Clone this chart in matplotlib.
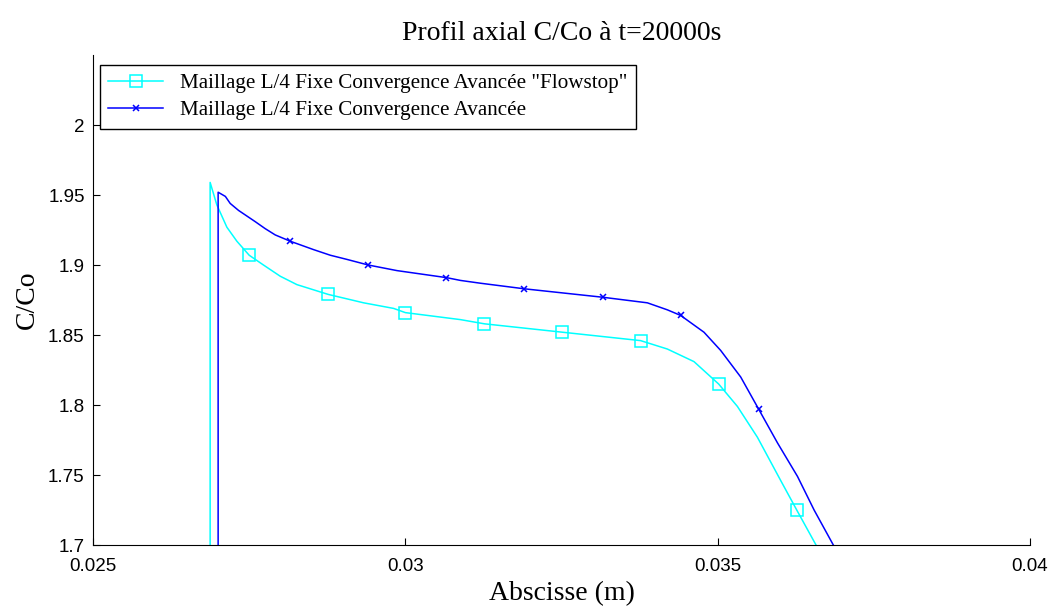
import matplotlib.pyplot as plt
from matplotlib.ticker import FormatStrFormatter

# Maillage L/4 Fixe Convergence Avancée "Flowstop" (cyan, squares)
x_flowstop = [0.026875, 0.026875, 0.026982, 0.027143, 0.027303, 0.027500, 0.027729,
              0.027997, 0.028264, 0.028766, 0.029332, 0.029813, 0.030000, 0.030882,
              0.031266, 0.032516, 0.033766, 0.034194, 0.034621, 0.035016, 0.035316,
              0.035636, 0.036010, 0.036266, 0.036587, 0.036811]
y_flowstop = [1.680, 1.959, 1.943, 1.927, 1.917, 1.907, 1.900,
              1.892, 1.886, 1.879, 1.873, 1.869, 1.866, 1.861,
              1.858, 1.852, 1.846, 1.840, 1.831, 1.815, 1.799,
              1.777, 1.746, 1.725, 1.699, 1.682]
marks_flowstop = [5, 9, 12, 14, 15, 16, 19, 23]

# Maillage L/4 Fixe Convergence Avancée (blue, crosses)
x_avancee = [0.027003, 0.027003, 0.027119, 0.027196, 0.027330, 0.027596, 0.027756,
             0.027917, 0.028157, 0.028531, 0.028798, 0.029066, 0.029407,
             0.029867, 0.030657, 0.030882, 0.031202, 0.031907, 0.033157, 0.033874,
             0.034194, 0.034407, 0.034781, 0.035048, 0.035369, 0.035657, 0.035957,
             0.036278, 0.036544, 0.036864, 0.037051]
y_avancee = [1.680, 1.952, 1.949, 1.944, 1.939, 1.931, 1.926,
             1.9215, 1.917, 1.911, 1.907, 1.904, 1.900,
             1.896, 1.891, 1.889, 1.887, 1.883, 1.877, 1.873,
             1.868, 1.864, 1.852, 1.839, 1.820, 1.797, 1.773,
             1.749, 1.725, 1.699, 1.682]
marks_avancee = [8, 12, 14, 17, 18, 21, 25]

x_ticks = [0.025, 0.03, 0.035, 0.04]
y_ticks = [1.7, 1.75, 1.8, 1.85, 1.9, 1.95, 2.0]

serif = 'Liberation Serif'

fig = plt.figure(figsize=(10.51, 6.08), dpi=100)
ax = fig.add_axes([0.0885, 0.1036, 0.8915, 0.8059])

ax.plot(x_flowstop, y_flowstop, color='#00ffff', lw=1.1, marker='s', ms=9,
        mfc='none', mec='#00ffff', mew=1.1, markevery=marks_flowstop,
        label='Maillage L/4 Fixe Convergence Avancée "Flowstop"')
ax.plot(x_avancee, y_avancee, color='#0000ff', lw=1.1, marker='x', ms=5,
        mew=1.1, markevery=marks_avancee,
        label='Maillage L/4 Fixe Convergence Avancée')

ax.set_xlim(0.025, 0.04)
ax.set_ylim(1.7, 2.05)
ax.set_xticks(x_ticks)
ax.set_yticks(y_ticks)
ax.xaxis.set_major_formatter(FormatStrFormatter('%g'))
ax.yaxis.set_major_formatter(FormatStrFormatter('%g'))
ax.tick_params(direction='in', length=5, width=0.8, labelsize=13.5)
ax.tick_params(axis='x', pad=9)
ax.tick_params(axis='y', pad=6)
for lab in ax.get_xticklabels() + ax.get_yticklabels():
    lab.set_fontfamily('Liberation Sans')

ax.spines['top'].set_visible(False)
ax.spines['right'].set_visible(False)

ax.set_title('Profil axial C/Co à t=20000s', fontfamily=serif, fontsize=20, pad=11)
ax.set_xlabel('Abscisse (m)', fontfamily=serif, fontsize=20, labelpad=5)
ax.set_ylabel('C/Co', fontfamily=serif, fontsize=20, labelpad=6)

leg = ax.legend(loc='upper left', bbox_to_anchor=(0.0075, 0.98), borderaxespad=0,
                fancybox=False, edgecolor='black', framealpha=1,
                prop={'family': serif, 'size': 15.2}, handlelength=2.6,
                handletextpad=0.8, labelspacing=0.35, borderpad=0.4)
leg.get_frame().set_linewidth(1.0)

fig.savefig('out.png', dpi=100)
